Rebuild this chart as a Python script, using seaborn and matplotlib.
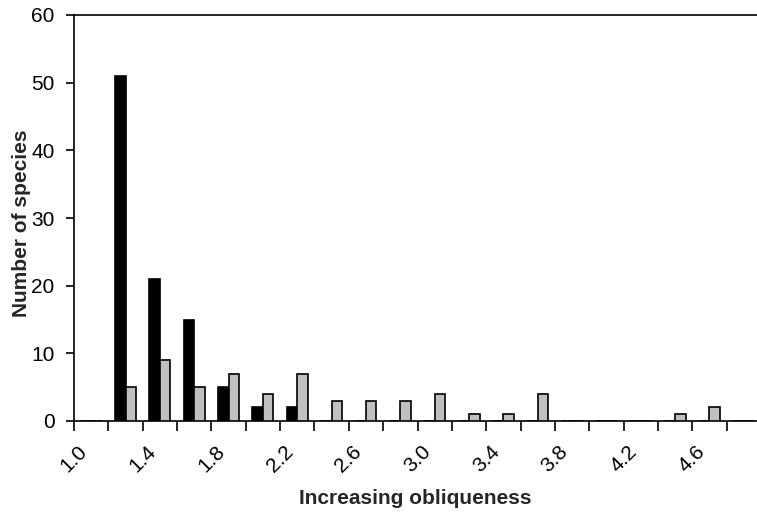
import matplotlib
matplotlib.use("Agg")
import matplotlib.pyplot as plt
import matplotlib.transforms as mtransforms
import numpy as np
import pandas as pd
import seaborn as sns

# bin lower edges (obliqueness), width 0.2
bin_lo = [1.0, 1.2, 1.4, 1.6, 1.8, 2.0, 2.2, 2.4, 2.6, 2.8,
          3.0, 3.2, 3.4, 3.6, 3.8, 4.0, 4.2, 4.4, 4.6, 4.8]
black_counts = [0, 51, 21, 15, 5, 2, 2, 0, 0, 0,
                0, 0, 0, 0, 0, 0, 0, 0, 0, 0]
grey_counts = [0, 5, 9, 5, 7, 4, 7, 3, 3, 3,
               4, 1, 1, 4, 0, 0, 0, 1, 2, 0]
tick_edges = [round(1.0 + 0.2 * k, 1) for k in range(21)]
labelled = [1.0, 1.4, 1.8, 2.2, 2.6, 3.0, 3.4, 3.8, 4.2, 4.6]

centers = [round(lo + 0.1, 2) for lo in bin_lo]
df = pd.DataFrame({
    "obliqueness": centers * 2,
    "count": black_counts + grey_counts,
    "group": ["black"] * len(centers) + ["grey"] * len(centers),
})

sns.set_style("white")
plt.rcParams["font.family"] = ["Liberation Sans", "DejaVu Sans"]

W, H = 757, 515
fig = plt.figure(figsize=(W / 100, H / 100), dpi=100)
ax = fig.add_axes([74 / W, (H - 421) / H, (761 - 74) / W, (421 - 15) / H])

sns.barplot(data=df, x="obliqueness", y="count", hue="group",
            native_scale=True, palette={"black": "#000000", "grey": "#c0c0c0"},
            width=0.61, edgecolor="black", linewidth=1.2, legend=False,
            saturation=1, ax=ax, zorder=3)

ax.set_xlim(1.0, 5.0)
ax.set_ylim(0, 60)
ax.set_yticks([0, 10, 20, 30, 40, 50, 60])
ax.set_xticks(tick_edges)
ax.set_xticklabels([f"{t:.1f}" if t in labelled else "" for t in tick_edges],
                   rotation=45, ha="center", fontsize=15)
offset = mtransforms.ScaledTranslation(-6 / 100, 0, fig.dpi_scale_trans)
for lab in ax.get_xticklabels():
    lab.set_transform(lab.get_transform() + offset)

ax.tick_params(axis="x", direction="out", length=7, width=1.2, pad=8, colors="black")
ax.tick_params(axis="y", direction="out", length=6, width=1.2, pad=8,
               labelsize=15, colors="black")
ax.tick_params(axis="x", bottom=True)
ax.tick_params(axis="y", left=True)

for side in ["left", "bottom", "top", "right"]:
    ax.spines[side].set_color("black")
    ax.spines[side].set_linewidth(1.2)

ax.set_xlabel("Increasing obliqueness", fontsize=15, fontweight="bold")
ax.set_ylabel("Number of species", fontsize=15, fontweight="bold")
ax.xaxis.set_label_coords(0.497, -0.168)
ax.yaxis.set_label_coords(-0.077, 0.488)
ax.yaxis.label.set_verticalalignment("center")

fig.savefig("out.png", dpi=100)
